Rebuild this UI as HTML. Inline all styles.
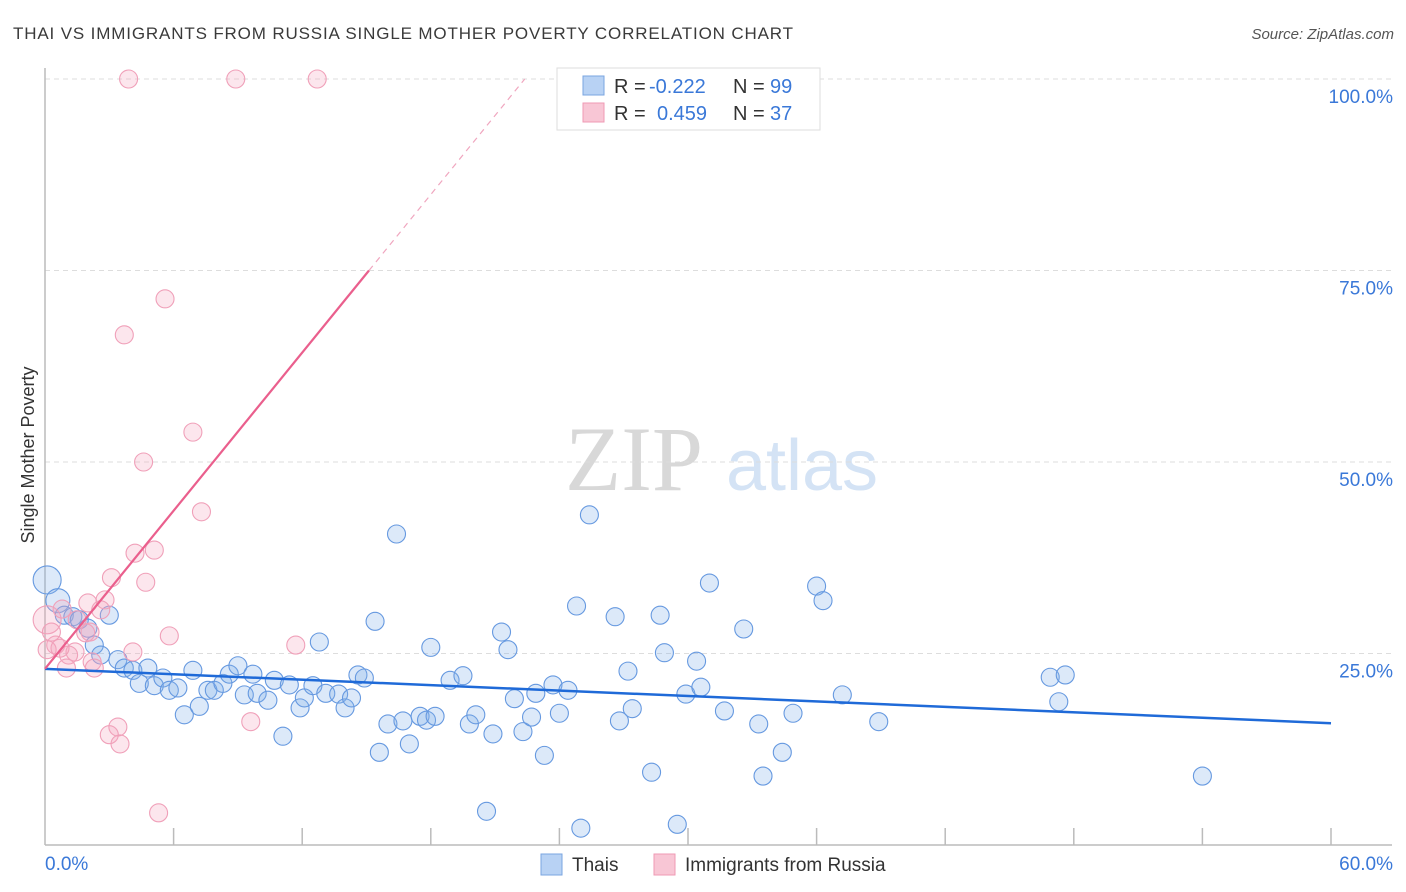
<!DOCTYPE html>
<html><head><meta charset="utf-8"><style>
body{margin:0;background:#fff;font-family:"Liberation Sans",sans-serif}
#wrap{position:relative;width:1406px;height:892px;overflow:hidden}
</style></head><body>
<div id="wrap">
<svg id="svg" width="1406" height="892" xmlns="http://www.w3.org/2000/svg">
<text x="13" y="39" font-size="17" fill="#3a3a3a" textLength="780" lengthAdjust="spacing" font-family="Liberation Sans">THAI VS IMMIGRANTS FROM RUSSIA SINGLE MOTHER POVERTY CORRELATION CHART</text>
<text x="1394" y="39" font-size="15" fill="#555" font-style="italic" text-anchor="end">Source: ZipAtlas.com</text>
<text x="0" y="0" transform="translate(34,455) rotate(-90)" font-size="18" fill="#333" text-anchor="middle">Single Mother Poverty</text>
<g>
<text x="634" y="490" font-size="92" fill="#d8d8d8" font-family="Liberation Serif" text-anchor="middle">ZIP</text>
<text x="802" y="490" font-size="72" fill="#d4e3f5" text-anchor="middle">atlas</text>
</g>
<g id="grid"></g><g id="axes"></g><g id="pts"></g><g id="lines"></g>
<g>
<rect x="557" y="68" width="263" height="62" fill="#fff" stroke="#ddd"/>
<rect x="583" y="76" width="21" height="19" fill="#b8d2f4" stroke="#7aa5e0"/>
<rect x="583" y="103" width="21" height="19" fill="#f8c6d5" stroke="#ef9ab4"/>
<text x="614" y="93" font-size="20" fill="#333">R = <tspan fill="#3a78d8" x="649">-0.222</tspan><tspan x="733">N = </tspan><tspan fill="#3a78d8" x="770">99</tspan></text>
<text x="614" y="120" font-size="20" fill="#333">R = <tspan fill="#3a78d8" x="657">0.459</tspan><tspan x="733">N = </tspan><tspan fill="#3a78d8" x="770">37</tspan></text>
</g>
<g>
<rect x="541" y="854" width="21" height="21" fill="#b8d2f4" stroke="#7aa5e0"/>
<text x="572" y="871" font-size="19" fill="#333">Thais</text>
<rect x="654" y="854" width="21" height="21" fill="#f8c6d5" stroke="#ef9ab4"/>
<text x="685" y="871" font-size="19" fill="#333">Immigrants from Russia</text>
</g>
</svg></div>
<script>
const blueX=[0.1,0.6,0.9,1.3,1.6,2.0,2.3,2.6,3.0,3.4,3.7,4.1,4.4,4.8,5.1,5.5,5.8,6.2,6.5,6.9,7.2,7.6,7.9,8.3,8.6,9.0,9.3,9.7,9.9,10.4,10.7,11.1,11.4,11.9,12.1,12.5,12.8,13.1,13.7,14.0,14.3,14.6,14.9,15.4,15.6,16.0,16.4,16.7,17.0,17.5,17.8,18.0,18.2,18.9,19.5,19.8,20.1,20.6,20.9,21.3,21.6,21.9,22.3,22.7,22.9,23.3,23.7,24.0,24.4,24.8,25.0,25.4,26.6,26.8,27.2,27.4,28.3,28.7,28.9,29.5,29.9,30.4,30.6,31.0,31.7,32.6,33.3,33.5,34.4,34.9,36.0,36.3,37.2,38.9,46.9,47.3,47.6,54.0];
const blueY=[34.6,31.9,30.0,29.8,29.4,28.3,26.1,24.8,30.0,24.2,23.1,22.8,21.1,23.1,20.8,21.8,20.2,20.5,17.0,22.8,18.1,20.2,20.2,21.1,22.3,23.4,19.6,22.3,19.8,18.9,21.5,14.2,20.9,17.9,19.2,20.8,26.5,19.8,19.7,17.9,19.2,22.2,21.8,29.2,12.1,15.8,40.6,16.2,13.2,16.8,16.3,25.8,16.8,21.5,22.1,15.8,17.0,4.4,14.5,27.8,25.5,19.1,14.8,16.7,19.8,11.7,20.9,17.2,20.2,31.2,2.2,43.1,29.8,16.2,22.7,17.8,9.5,30.0,25.1,2.7,19.7,24.0,20.6,34.2,17.5,28.2,15.8,9.0,12.1,17.2,33.8,31.9,19.6,16.1,21.9,18.7,22.2,9.0];
const blueSize=[14,12];
const pinkX=[3.9,8.9,12.7,5.6,3.7,6.9,4.6,7.3,5.1,4.2,3.1,4.7,2.8,2.0,0.8,2.6,0.1,0.5,1.9,5.8,11.7,4.1,1.4,1.1,0.1,2.2,1.0,2.3,0.7,0.3,3.4,3.0,3.5,9.6,5.3,1.5,2.1];
const pinkY=[100,100,100,71.3,66.6,53.9,50.0,43.5,38.5,38.1,34.9,34.3,32.0,31.6,30.8,30.7,29.4,26.1,27.7,27.3,26.1,25.2,25.2,24.8,25.5,23.9,23.1,23.1,25.7,27.8,15.4,14.4,13.2,16.1,4.2,29.4,27.8];
const pinkSize={16:14};
const blueTrend=[23.0,15.9];
const pinkTrend=[23.0,3.44];
const yTicks=[25,50,75,100];
const xTickLabels=["0.0%","60.0%"];
const NS="http://www.w3.org/2000/svg";
const sx=v=>45+v/60*1286, sy=v=>845-v*7.66;
function mk(tag,attrs,parent){const e=document.createElementNS(NS,tag);for(const k in attrs)e.setAttribute(k,attrs[k]);parent.appendChild(e);return e;}
const grid=document.getElementById('grid'),axes=document.getElementById('axes'),pts=document.getElementById('pts'),lines=document.getElementById('lines');
yTicks.forEach(t=>{
 const l=mk('line',{x1:45,x2:1392,y1:sy(t),y2:sy(t),stroke:'#ddd','stroke-dasharray':'5,4'},grid);
 
 
 const tx=mk('text',{x:1393,y:sy(t)+24,'font-size':19,fill:'#3a78d8','text-anchor':'end'},axes);
 tx.textContent=t.toFixed(1)+'%';
 
 
});
mk('line',{x1:45,x2:45,y1:68,y2:845,stroke:'#bbb','stroke-width':1.5},axes);
const xa=mk('line',{x1:45,x2:1392,y1:845,y2:845,stroke:'#bbb','stroke-width':1.5},axes);


for(let i=1;i<=10;i++){const t=mk('line',{x1:sx(i*6),x2:sx(i*6),y1:828,y2:845,stroke:'#bbb','stroke-width':1.5},axes);
 
 }
const xl0=mk('text',{x:45,y:870,'font-size':19,fill:'#3a78d8'},axes);xl0.textContent=xTickLabels[0];


const xl1=mk('text',{x:1393,y:870,'font-size':19,fill:'#3a78d8','text-anchor':'end'},axes);xl1.textContent=xTickLabels[1];


blueX.forEach((x,i)=>{const c=mk('circle',{cx:sx(x),cy:sy(blueY[i]),r:blueSize[i]||9,fill:'rgba(130,175,235,0.28)',stroke:'#6699e0','stroke-width':1.1},pts);
 
 });
pinkX.forEach((x,i)=>{const c=mk('circle',{cx:sx(x),cy:sy(pinkY[i]),r:pinkSize[i]||9,fill:'rgba(245,165,190,0.28)',stroke:'#f0a0b9','stroke-width':1.1},pts);
 
 });
const bl=mk('line',{x1:sx(0),y1:sy(blueTrend[0]),x2:sx(60),y2:sy(blueTrend[1]),stroke:'#1f6ad8','stroke-width':2.5},lines);


const pEnd=(75-pinkTrend[0])/pinkTrend[1], pTop=(100-pinkTrend[0])/pinkTrend[1];
const pl=mk('line',{x1:sx(0),y1:sy(pinkTrend[0]),x2:sx(pEnd),y2:sy(75),stroke:'#ea5f8d','stroke-width':2.2},lines);


const pd=mk('line',{x1:sx(pEnd),y1:sy(75),x2:sx(pTop),y2:sy(100),stroke:'#f0a6bf','stroke-width':1.2,'stroke-dasharray':'6,5'},lines);


</script>
</body></html>
